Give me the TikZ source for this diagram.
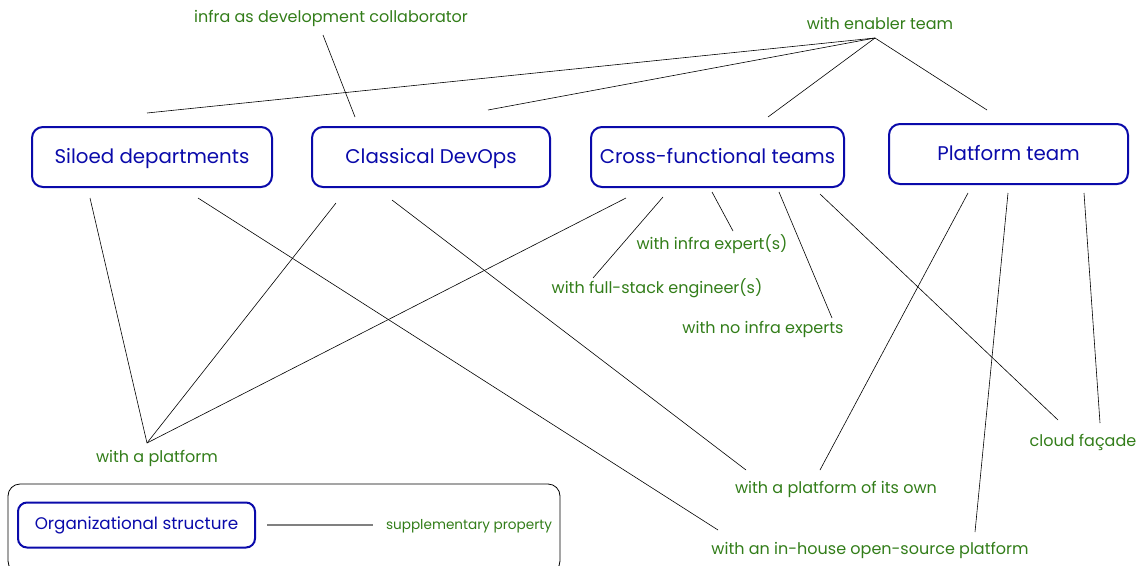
\documentclass[tikz,border=0pt]{standalone}
\usepackage{fontspec}
\setmainfont{Poppins}
\definecolor{boxblue}{RGB}{10,10,170}
\definecolor{lblgreen}{RGB}{50,125,25}
\begin{document}
\begin{tikzpicture}[x=1pt,y=-1pt,
  structbox/.style={draw=boxblue,line width=2pt,rounded corners=11pt,text=boxblue,
    font=\fontsize{19.8}{22}\selectfont,minimum height=60pt,inner sep=0pt,anchor=center,
    text depth=3pt},
  prop/.style={text=lblgreen,font=\fontsize{16}{18}\selectfont,inner sep=0pt,yshift=-1.5pt},
  link/.style={draw=black,line width=0.6pt}]
\useasboundingbox (0,0) rectangle (1143,565);

% legend frame
\draw[line width=0.8pt,rounded corners=12pt] (8,484) rectangle (560,573);
\node[structbox,minimum width=237pt,minimum height=45pt,rounded corners=9pt,font=\fontsize{16.8}{19}\selectfont] (legbox) at (136.5,525) {Organizational structure};
\node[prop,font=\fontsize{13.6}{15}\selectfont] (legprop) at (469,525) {supplementary property};
\draw[line width=1.2pt,gray] (267,525) -- (373,525);

% organisational structures
\node[structbox,minimum width=240pt] (sil) at (152,157) {Siloed departments};
\node[structbox,minimum width=238pt] (cls) at (431,157) {Classical DevOps};
\node[structbox,minimum width=253pt] (crs) at (717.5,157) {Cross-functional teams};
\node[structbox,minimum width=239pt] (plt) at (1008.5,154) {Platform team};

% properties
\node[prop] (collab) at (331,17) {infra as development collaborator};
\node[prop] (enabler) at (880,22) {with enabler team};
\node[prop] (expert) at (712,243) {with infra expert(s)};
\node[prop] (fullstack) at (657,287) {with full-stack engineer(s)};
\node[prop] (noexpert) at (763,328) {with no infra experts};
\node[prop] (aplat) at (157,457) {with a platform};
\node[prop] (facade) at (1083,441) {cloud façade};
\node[prop] (ownplat) at (836,488) {with a platform of its own};
\node[prop] (oss) at (870,549) {with an in-house open-source platform};

% connector end points
\coordinate (enabler-p) at (875,38);
\coordinate (collab-p) at (323,35);
\coordinate (aplat-p) at (147,443);
\coordinate (expert-p) at (733,231);
\coordinate (fullstack-p) at (593,278);
\coordinate (noexpert-p) at (832,318);
\coordinate (facade-p1) at (1058,420);
\coordinate (facade-p2) at (1100,423);
\coordinate (ownplat-p1) at (746,470);
\coordinate (ownplat-p2) at (820,470);
\coordinate (oss-p1) at (718,530);
\coordinate (oss-p2) at (975,532);

\coordinate (sil-t) at (147,113);
\coordinate (cls-t1) at (355,117);
\coordinate (cls-t2) at (488,110);
\coordinate (crs-t) at (768,117);
\coordinate (plt-t) at (987,110);
\coordinate (sil-b1) at (90,198);
\coordinate (sil-b2) at (198,198);
\coordinate (cls-b1) at (336,203);
\coordinate (cls-b2) at (392,200);
\coordinate (crs-b1) at (626,198);
\coordinate (crs-b2) at (663,197);
\coordinate (crs-b3) at (712,192);
\coordinate (crs-b4) at (779,192);
\coordinate (crs-b5) at (820,194);
\coordinate (plt-b1) at (968,193);
\coordinate (plt-b2) at (1008,193);
\coordinate (plt-b3) at (1084,193);

% links above the structures
\draw[link] (enabler-p) -- (sil-t);
\draw[link] (enabler-p) -- (cls-t2);
\draw[link] (enabler-p) -- (crs-t);
\draw[link] (enabler-p) -- (plt-t);
\draw[link] (collab-p) -- (cls-t1);

% links below the structures
\draw[link] (sil-b1) -- (aplat-p);
\draw[link] (sil-b2) -- (oss-p1);
\draw[link] (cls-b1) -- (aplat-p);
\draw[link] (cls-b2) -- (ownplat-p1);
\draw[link] (crs-b1) -- (aplat-p);
\draw[link] (crs-b2) -- (fullstack-p);
\draw[link] (crs-b3) -- (expert-p);
\draw[link] (crs-b4) -- (noexpert-p);
\draw[link] (crs-b5) -- (facade-p1);
\draw[link] (plt-b1) -- (ownplat-p2);
\draw[link] (plt-b2) -- (oss-p2);
\draw[link] (plt-b3) -- (facade-p2);
\end{tikzpicture}
\end{document}
